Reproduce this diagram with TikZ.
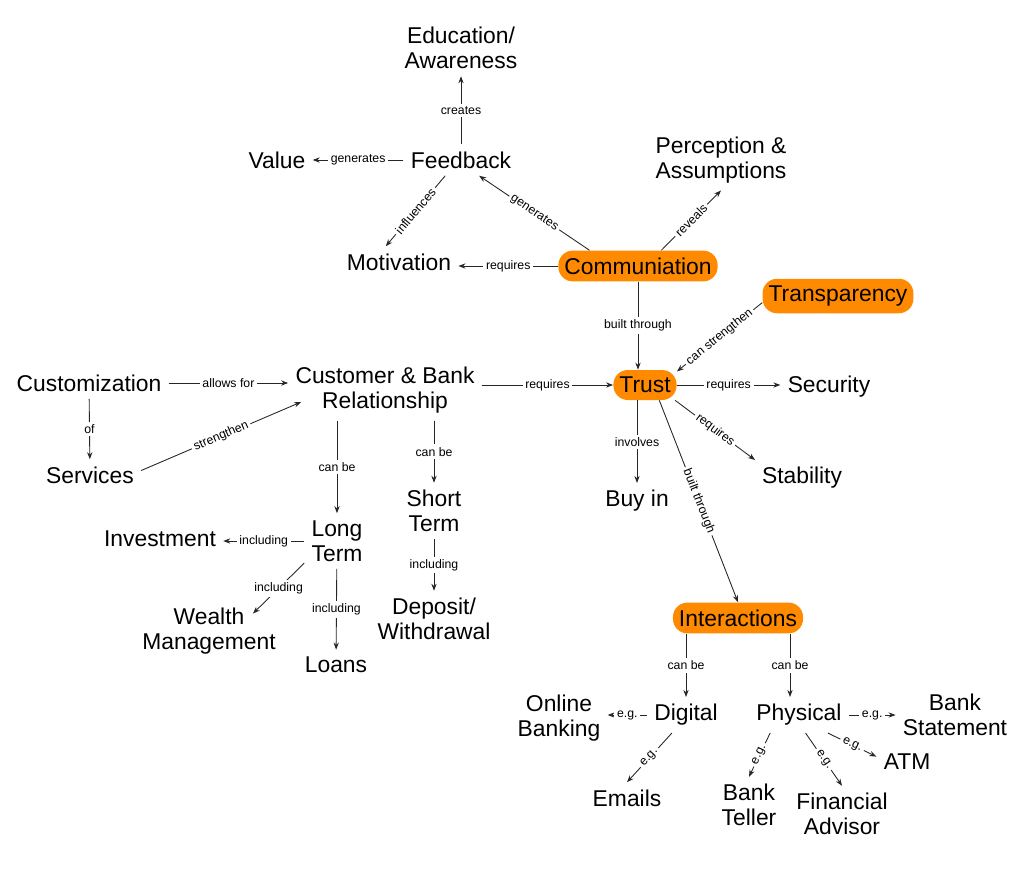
\documentclass[tikz,border=0pt]{standalone}
\usepackage{fontspec}
\setmainfont{Liberation Sans}
\usetikzlibrary{arrows.meta}
\definecolor{hlorange}{RGB}{255,138,0}

\begin{document}
\begin{tikzpicture}[x=0.02cm,y=-0.02cm,
  concept/.style={font=\fontsize{13}{14.2}\selectfont,align=center,inner sep=4pt},
  key/.style={concept,fill=hlorange,rounded corners=0.29cm,minimum height=0.6cm,inner xsep=0.12cm},
  link/.style={draw=black!85,line width=0.5pt,-{Stealth[length=4pt,width=3pt]}},
  lbl/.style={fill=white,font=\fontsize{7}{8}\selectfont,inner sep=1.5pt}]
\useasboundingbox (0,0) rectangle (1021,876);

% concepts
\node[concept] (edu) at (461,48) {Education/\\Awareness};
\node[concept] (fb) at (461,160) {Feedback};
\node[concept] (val) at (277,160) {Value};
\node[concept] (mot) at (399,262) {Motivation};
\node[concept] (per) at (721,160) {Perception \&\\Assumptions};
\node[key] (com) at (638,266) {Communiation};
\node[key] (tra) at (838,296) {Transparency};
\node[key] (trust) at (645,385) {Trust};
\node[concept] (cb) at (385,390) {Customer \& Bank\\Relationship};
\node[concept] (cust) at (89,383) {Customization};
\node[concept] (serv) at (90,475) {Services};
\node[concept] (sec) at (829,387) {Security};
\node[concept] (stab) at (802,478) {Stability};
\node[concept] (buy) at (637,501) {Buy in};
\node[concept] (st) at (434,511) {Short\\Term};
\node[concept] (lt) at (337,541) {Long\\Term};
\node[concept] (inv) at (160,539) {Investment};
\node[concept] (wm) at (209,631) {Wealth\\Management};
\node[concept] (loans) at (336,665) {Loans};
\node[concept] (dep) at (434,619) {Deposit/\\Withdrawal};
\node[key] (int) at (738,618) {Interactions};
\node[concept] (dig) at (686,715) {Digital};
\node[concept] (phy) at (799,715) {Physical};
\node[concept] (ob) at (559,718) {Online\\Banking};
\node[concept] (bs) at (955,715) {Bank\\Statement};
\node[concept] (atm) at (907,762) {ATM};
\node[concept] (em) at (627,798) {Emails};
\node[concept] (bt) at (749,805) {Bank\\Teller};
\node[concept] (fa) at (842,814) {Financial\\Advisor};
\coordinate (phytop) at ([shift={(-9,0)}]phy.north);

% links
\draw[link] (fb) -- node[lbl]{creates} (edu);
\draw[link] (fb) -- node[lbl]{generates} (val);
\draw[link] (fb.225) -- node[lbl,sloped]{influences} (mot.130);
\draw[link] (com.162) -- node[lbl,sloped]{generates} (fb.319);
\draw[link] (com.34) -- node[lbl,sloped]{reveals} (per.south);
\draw[link] (com.west) -- node[lbl]{requires} (com.west -| mot.east);
\draw[link] (com.south) -- node[lbl]{built through} (com.south |- trust.north);
\draw[link] (tra.185) -- node[lbl,sloped]{can strengthen} (trust.23);
\draw[link] (cb.east |- trust.west) -- node[lbl]{requires} (trust.west);
\draw[link] (trust.east) -- node[lbl]{requires} (trust.east -| sec.west);
\draw[link] (trust.333) -- node[lbl,sloped]{requires} (stab.159);
\draw[link] (trust.south -| buy.north) -- node[lbl]{involves} (buy.north);
\draw[link] (trust.313) -- node[lbl,sloped]{built through} (int.north);
\draw[link] (cust.east) -- node[lbl]{allows for} (cust.east -| cb.west);
\draw[link] (cust) -- node[lbl]{of} (serv);
\draw[link] (serv.5) -- node[lbl,sloped]{strengthen} ([shift={(13,12)}]cb.west);
\draw[link] (cb.south -| lt.north) -- node[lbl]{can be} (lt.north);
\draw[link] (cb.south -| st.north) -- node[lbl]{can be} (st.north);
\draw[link] (lt.west) -- node[lbl]{including} (lt.west -| inv.east);
\draw[link] (lt.214) -- node[lbl]{including} ([shift={(44,13)}]wm.north);
\draw[link] (lt) -- node[lbl]{including} (loans);
\draw[link] (st) -- node[lbl]{including} (dep);
\draw[link] (int.south -| dig.north) -- node[lbl]{can be} (dig.north);
\draw[link] (int.south -| phytop) -- node[lbl]{can be} (phytop);
\draw[link] (dig.west) -- node[lbl]{e.g.} (dig.west -| ob.east);
\draw[link] (dig.232) -- node[lbl,sloped]{e.g.} (em.north);
\draw[link] (phy.east) -- node[lbl]{e.g.} (phy.east -| bs.west);
\draw[link] (phy.328) -- node[lbl,sloped]{e.g.} (atm.170);
\draw[link] (phy.212) -- node[lbl,sloped]{e.g.} (bt.north);
\draw[link] (phy.290) -- node[lbl,sloped]{e.g.} (fa.north);

\end{tikzpicture}
\end{document}
